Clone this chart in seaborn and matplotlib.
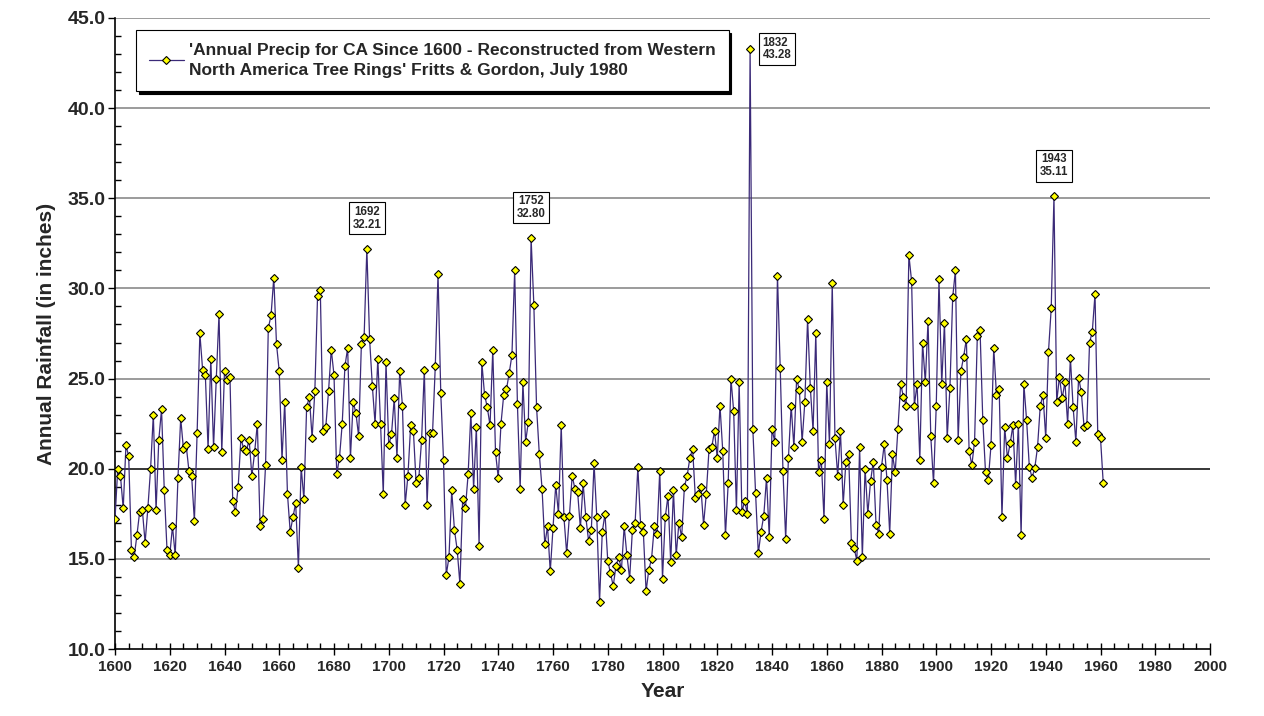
import matplotlib
matplotlib.use("Agg")
import matplotlib.pyplot as plt
from matplotlib.ticker import MultipleLocator, FormatStrFormatter
import seaborn as sns
import pandas as pd

# Reconstructed annual precipitation for California, 1600-1961 (inches)
years = list(range(1600, 1962))
rainfall = [
    17.2, 20.0, 19.6, 17.8, 21.3, 20.7, 15.5, 15.1, 16.3, 17.6,   # 1600s
    17.7, 15.9, 17.8, 20.0, 23.0, 17.7, 21.6, 23.3, 18.8, 15.5,   # 1610s
    15.2, 16.8, 15.2, 19.5, 22.8, 21.1, 21.3, 19.9, 19.6, 17.1,   # 1620s
    22.0, 27.5, 25.5, 25.2, 21.1, 26.1, 21.2, 25.0, 28.6, 20.9,   # 1630s
    25.4, 24.9, 25.1, 18.2, 17.6, 19.0, 21.7, 21.1, 21.0, 21.6,   # 1640s
    19.6, 20.9, 22.5, 16.8, 17.2, 20.2, 27.8, 28.5, 30.6, 26.9,   # 1650s
    25.4, 20.5, 23.7, 18.6, 16.5, 17.3, 18.1, 14.5, 20.1, 18.3,   # 1660s
    23.4, 24.0, 21.7, 24.3, 29.6, 29.9, 22.1, 22.3, 24.3, 26.6,   # 1670s
    25.2, 19.7, 20.6, 22.5, 25.7, 26.7, 20.6, 23.7, 23.1, 21.8,   # 1680s
    26.9, 27.3, 32.21, 27.2, 24.6, 22.5, 26.1, 22.5, 18.6, 25.9,  # 1690s
    21.3, 21.9, 23.9, 20.6, 25.4, 23.5, 18.0, 19.6, 22.4, 22.1,   # 1700s
    19.2, 19.5, 21.6, 25.5, 18.0, 22.0, 22.0, 25.7, 30.8, 24.2,   # 1710s
    20.5, 14.1, 15.1, 18.8, 16.6, 15.5, 13.6, 18.3, 17.8, 19.7,   # 1720s
    23.1, 18.9, 22.3, 15.7, 25.9, 24.1, 23.4, 22.4, 26.6, 20.9,   # 1730s
    19.5, 22.5, 24.1, 24.4, 25.3, 26.3, 31.0, 23.6, 18.9, 24.8,   # 1740s
    21.5, 22.6, 32.80, 29.1, 23.4, 20.8, 18.9, 15.8, 16.8, 14.3,  # 1750s
    16.7, 19.1, 17.5, 22.4, 17.3, 15.3, 17.4, 19.6, 18.9, 18.7,   # 1760s
    16.7, 19.2, 17.3, 16.0, 16.6, 20.3, 17.3, 12.6, 16.5, 17.5,   # 1770s
    14.9, 14.2, 13.5, 14.6, 15.1, 14.4, 16.8, 15.2, 13.9, 16.6,   # 1780s
    17.0, 20.1, 16.9, 16.5, 13.2, 14.4, 15.0, 16.8, 16.4, 19.9,   # 1790s
    13.9, 17.3, 18.5, 14.8, 18.8, 15.2, 17.0, 16.2, 19.0, 19.6,   # 1800s
    20.6, 21.1, 18.4, 18.6, 19.0, 16.9, 18.6, 21.1, 21.2, 22.1,   # 1810s
    20.6, 23.5, 21.0, 16.3, 19.2, 25.0, 23.2, 17.7, 24.8, 17.6,   # 1820s
    18.2, 17.5, 43.28, 22.2, 18.65, 15.3, 16.5, 17.4, 19.5, 16.2, # 1830s
    22.2, 21.5, 30.7, 25.6, 19.9, 16.1, 20.6, 23.5, 21.2, 25.0,   # 1840s
    24.35, 21.5, 23.7, 28.3, 24.5, 22.1, 27.5, 19.8, 20.5, 17.2,  # 1850s
    24.8, 21.35, 30.3, 21.7, 19.6, 22.1, 18.0, 20.4, 20.8, 15.9,  # 1860s
    15.6, 14.9, 21.2, 15.1, 20.0, 17.5, 19.3, 20.4, 16.9, 16.4,   # 1870s
    20.1, 21.35, 19.4, 16.4, 20.8, 19.8, 22.2, 24.7, 24.0, 23.5,  # 1880s
    31.85, 30.4, 23.5, 24.7, 20.5, 27.0, 24.8, 28.2, 21.8, 19.2,  # 1890s
    23.5, 30.5, 24.7, 28.1, 21.7, 24.5, 29.5, 31.0, 21.6, 25.4,   # 1900s
    26.2, 27.2, 21.0, 20.2, 21.5, 27.35, 27.7, 22.7, 19.8, 19.35, # 1910s
    21.3, 26.7, 24.1, 24.4, 17.3, 22.3, 20.6, 21.4, 22.4, 19.1,   # 1920s
    22.5, 16.3, 24.7, 22.7, 20.1, 19.5, 20.05, 21.2, 23.5, 24.1,  # 1930s
    21.7, 26.5, 28.9, 35.11, 23.7, 25.1, 23.9, 24.8, 22.5, 26.15, # 1940s
    23.4, 21.5, 25.05, 24.25, 22.3, 22.4, 27.0, 27.6, 29.7, 21.9, # 1950s
    21.7, 19.2,                                                   # 1960s
]

# Years called out with a boxed label
peak_years = [1692, 1752, 1832, 1943]

series_label = ("'Annual Precip for CA Since 1600 - Reconstructed from Western\n"
                "North America Tree Rings' Fritts & Gordon, July 1980")

df = pd.DataFrame({"Year": years, "Rainfall": rainfall})

sns.set_theme(style="white")
plt.rcParams["font.family"] = ["Liberation Sans", "DejaVu Sans"]

fig = plt.figure(figsize=(12.64, 7.16), dpi=100)
ax = fig.add_axes([115 / 1264, 1 - 649 / 716, (1210 - 115) / 1264, (649 - 18) / 716])

line_color = "#3b2a78"

# Horizontal gridlines; the 20-inch line is drawn in black
for yv in [15, 25, 30, 35, 40, 45]:
    ax.axhline(yv, color="#808080", lw=1.1, zorder=1)
ax.axhline(20, color="black", lw=1.1, zorder=1)

sns.lineplot(data=df, x="Year", y="Rainfall", ax=ax, color=line_color,
             lw=0.9, marker="D", markersize=4.2, markerfacecolor="#ffff00",
             markeredgecolor="black", markeredgewidth=0.8,
             label=series_label, zorder=3, estimator=None)

ax.set_xlim(1600, 2000)
ax.set_ylim(10, 45)

ax.xaxis.set_major_locator(MultipleLocator(20))
ax.xaxis.set_minor_locator(MultipleLocator(5))
ax.yaxis.set_major_locator(MultipleLocator(5))
ax.yaxis.set_minor_locator(MultipleLocator(1))
ax.yaxis.set_major_formatter(FormatStrFormatter("%.1f"))

ax.tick_params(axis="x", which="major", direction="inout", length=8, width=1,
               color="black", labelsize=11, pad=4, bottom=True)
ax.tick_params(axis="x", which="minor", direction="in", length=4, width=1,
               color="black", bottom=True)
ax.tick_params(axis="y", which="major", direction="out", length=5, width=1,
               color="black", labelsize=14, pad=2, left=True)
ax.tick_params(axis="y", which="minor", direction="in", length=4, width=1,
               color="black", left=True)
for lab in ax.get_xticklabels() + ax.get_yticklabels():
    lab.set_fontweight("bold")

for side in ["top", "right"]:
    ax.spines[side].set_visible(False)
for side in ["left", "bottom"]:
    ax.spines[side].set_color("black")
    ax.spines[side].set_linewidth(1.2)

ax.set_xlabel("Year", fontsize=15, fontweight="bold", labelpad=6)
ax.set_ylabel("Annual Rainfall (in inches)", fontsize=15, fontweight="bold", labelpad=8)

# Boxed value labels on the wettest years
for yr in peak_years:
    val = rainfall[years.index(yr)]
    text = f"{yr}\n{val:.2f}"
    box = dict(boxstyle="square,pad=0.3", fc="white", ec="black", lw=0.8)
    if yr == 1832:
        ax.annotate(text, xy=(yr, val), xytext=(9, 0), textcoords="offset points",
                    ha="left", va="center", fontsize=8.3, fontweight="bold",
                    linespacing=1.1, bbox=box, zorder=5)
    else:
        ax.annotate(text, xy=(yr, val), xytext=(0, 13), textcoords="offset points",
                    ha="center", va="bottom", fontsize=8.3, fontweight="bold",
                    linespacing=1.1, bbox=box, zorder=5)

leg = ax.legend(loc="upper left", bbox_to_anchor=(0.019, 0.981), frameon=True,
                fancybox=False, shadow={"color": "black", "alpha": 1.0},
                prop={"size": 12.5, "weight": "bold"}, handlelength=2.0,
                borderpad=0.75, handletextpad=0.3, borderaxespad=0)
leg.get_frame().set_edgecolor("black")
leg.get_frame().set_linewidth(0.8)
leg.get_frame().set_facecolor("white")
for t in leg.get_texts():
    t.set_linespacing(1.4)

fig.savefig("out.png", dpi=100)
